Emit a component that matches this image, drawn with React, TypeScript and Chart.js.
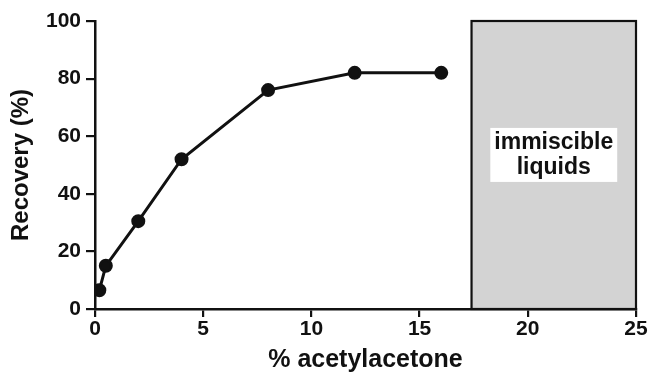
import React, { useEffect, useRef } from "react";
import { Chart, registerables } from "chart.js";

Chart.register(...registerables);

const xValues = [0.2, 0.5, 2, 4, 8, 12, 16];
const recovery = [6.5, 15, 30.5, 52, 76, 82, 82];
const xTicks = [0, 5, 10, 15, 20, 25];
const yTicks = [0, 20, 40, 60, 80, 100];
const immiscibleRange = [17.4, 25];
const immiscibleTop = 100;
const immiscibleLabel = ["immiscible", "liquids"];
const labelCenter = [21.2, 53.5];

const FONT = "'Liberation Sans', Arial, Helvetica, sans-serif";

const regionPlugin = {
  id: "immiscibleRegion",
  beforeDatasetsDraw(chart: any) {
    const { ctx, scales } = chart;
    const x = scales.x;
    const y = scales.y;
    const x0 = x.getPixelForValue(immiscibleRange[0]);
    const x1 = x.getPixelForValue(immiscibleRange[1]);
    const y0 = y.getPixelForValue(immiscibleTop);
    const y1 = y.getPixelForValue(0);
    ctx.save();
    ctx.fillStyle = "#d3d3d3";
    ctx.fillRect(x0, y0, x1 - x0, y1 - y0);
    ctx.strokeStyle = "#111";
    ctx.lineWidth = 2.2;
    ctx.strokeRect(x0, y0, x1 - x0, y1 - y0);
    const cx = x.getPixelForValue(labelCenter[0]);
    const cy = y.getPixelForValue(labelCenter[1]);
    ctx.font = `bold 23px ${FONT}`;
    const w = Math.max(...immiscibleLabel.map((t) => ctx.measureText(t).width)) + 8;
    const lh = 25;
    const h = lh * immiscibleLabel.length + 4;
    ctx.fillStyle = "#ffffff";
    ctx.fillRect(cx - w / 2, cy - h / 2, w, h);
    ctx.fillStyle = "#111";
    ctx.textAlign = "center";
    ctx.textBaseline = "middle";
    immiscibleLabel.forEach((t, i) => {
      ctx.fillText(t, cx, cy - h / 2 + 2 + lh * (i + 0.5));
    });
    ctx.restore();
  },
};

export default function App() {
  const ref = useRef<HTMLCanvasElement | null>(null);
  useEffect(() => {
    document.body.style.margin = "0";
    const canvas = ref.current!;
    const chart = new Chart(canvas, {
      type: "scatter",
      data: {
        datasets: [
          {
            data: xValues.map((v, i) => ({ x: v, y: recovery[i] })),
            showLine: true,
            borderColor: "#111",
            backgroundColor: "#111",
            borderWidth: 3,
            pointRadius: 5.5,
            pointBackgroundColor: "#111",
            pointBorderColor: "#111",
            tension: 0,
          },
        ],
      },
      options: {
        animation: false,
        responsive: false,
        maintainAspectRatio: false,
        layout: { padding: { top: 21, right: 13, left: 0, bottom: 0 } },
        plugins: { legend: { display: false }, tooltip: { enabled: false } },
        scales: {
          x: {
            type: "linear",
            min: 0,
            max: 25,
            afterBuildTicks: (s: any) => {
              s.ticks = xTicks.map((v) => ({ value: v }));
            },
            afterFit: (s: any) => {
              s.height = 68;
            },
            grid: {
              display: true,
              drawOnChartArea: false,
              drawTicks: true,
              tickLength: 8,
              color: "#111",
              lineWidth: 2.2,
            },
            border: { display: true, color: "#111", width: 2.5 },
            ticks: {
              color: "#111",
              font: { family: FONT, size: 21, weight: "bold" },
              padding: 0,
              maxRotation: 0,
            },
            title: {
              display: true,
              text: "% acetylacetone",
              color: "#111",
              font: { family: FONT, size: 25, weight: "bold" },
              padding: { top: 0, bottom: 2 },
            },
          },
          y: {
            type: "linear",
            min: 0,
            max: 100,
            afterBuildTicks: (s: any) => {
              s.ticks = yTicks.map((v) => ({ value: v }));
            },
            afterFit: (s: any) => {
              s.width = 95;
            },
            grid: {
              display: true,
              drawOnChartArea: false,
              drawTicks: true,
              tickLength: 9,
              color: "#111",
              lineWidth: 2.2,
            },
            border: { display: true, color: "#111", width: 2.5 },
            ticks: {
              color: "#111",
              font: { family: FONT, size: 21, weight: "bold" },
              padding: 5,
            },
            title: {
              display: true,
              text: "Recovery (%)",
              color: "#111",
              font: { family: FONT, size: 24, weight: "bold" },
              padding: { top: 7, bottom: 0 },
            },
          },
        },
      },
      plugins: [regionPlugin],
    });
    return () => chart.destroy();
  }, []);
  return (
    <div style={{ width: 649, height: 377 }}>
      <canvas ref={ref} width={649} height={377} style={{ display: "block" }} />
    </div>
  );
}
